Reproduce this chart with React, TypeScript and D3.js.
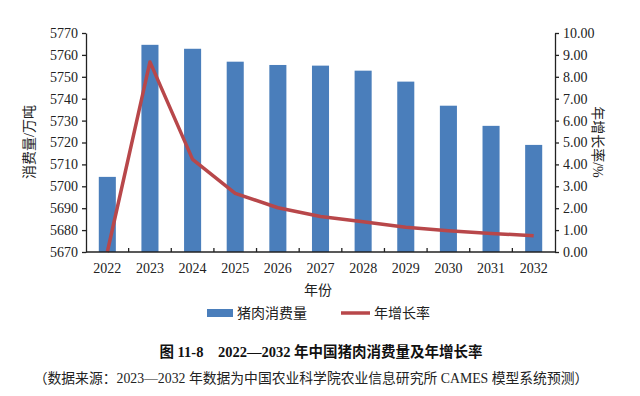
import React, { useEffect, useRef } from 'react';
import * as d3 from 'd3';

const years = ['2022', '2023', '2024', '2025', '2026', '2027', '2028', '2029', '2030', '2031', '2032'];
const consumption = [5704.3, 5764.6, 5762.8, 5756.9, 5755.4, 5755.1, 5752.8, 5747.8, 5736.8, 5727.6, 5718.9];
const growth = [0, 8.68, 4.23, 2.68, 2.02, 1.62, 1.38, 1.13, 0.97, 0.85, 0.74];
const leftTicks = [5670, 5680, 5690, 5700, 5710, 5720, 5730, 5740, 5750, 5760, 5770];
const rightTicks = [0, 1, 2, 3, 4, 5, 6, 7, 8, 9, 10];

const serif = '"Liberation Serif", "Times New Roman", serif';
const cjk = '"Liberation Serif", "Noto Sans CJK SC", serif';

export default function App() {
  const ref = useRef<SVGSVGElement>(null);

  useEffect(() => {
    const svg = d3.select(ref.current);
    svg.selectAll('*').remove();

    const left = 86, right = 555, top = 33, bottom = 252;
    const x = d3.scaleBand().domain(years).range([left, right]).paddingInner(0.6).paddingOuter(0.3);
    const yL = d3.scaleLinear().domain([5670, 5770]).range([bottom, top]);
    const yR = d3.scaleLinear().domain([0, 10]).range([bottom, top]);

    // bars
    svg.append('g').selectAll('rect')
      .data(years)
      .enter()
      .append('rect')
      .attr('x', d => x(d)!)
      .attr('width', x.bandwidth())
      .attr('y', (d, i) => yL(consumption[i]))
      .attr('height', (d, i) => bottom - yL(consumption[i]))
      .attr('fill', '#4a7ebb');

    // line
    const line = d3.line<number>()
      .x((d, i) => x(years[i])! + x.bandwidth() / 2)
      .y(d => yR(d));
    svg.append('path')
      .datum(growth)
      .attr('d', line)
      .attr('fill', 'none')
      .attr('stroke', '#b8474a')
      .attr('stroke-width', 3.5)
      .attr('stroke-linejoin', 'round');

    // left axis
    const gl = svg.append('g').attr('transform', `translate(${left},0)`)
      .call(d3.axisLeft(yL).tickValues(leftTicks).tickFormat(d3.format('d')).tickSize(4).tickSizeOuter(0));
    // right axis
    const gr = svg.append('g').attr('transform', `translate(${right},0)`)
      .call(d3.axisRight(yR).tickValues(rightTicks).tickFormat(d3.format('.2f')).tickSize(4).tickSizeOuter(0));
    [gl, gr].forEach(g => {
      g.select('.domain').attr('stroke', '#222').attr('stroke-width', 1.3);
      g.selectAll('.tick line').attr('stroke', '#222').attr('stroke-width', 1.3);
      g.selectAll('.tick text').attr('font-family', serif).attr('font-size', 14).attr('fill', '#222');
    });
    gl.selectAll('.tick text').attr('x', -8);
    gr.selectAll('.tick text').attr('x', 8);

    // x axis
    const gx = svg.append('g').attr('transform', `translate(0,${bottom})`);
    gx.append('line').attr('x1', left).attr('x2', right).attr('stroke', '#222').attr('stroke-width', 1.3);
    const step = x.step();
    const bounds = d3.range(1, years.length).map(i => x(years[i])! - (step - x.bandwidth()) / 2);
    gx.selectAll('.xt').data(bounds).enter().append('line')
      .attr('x1', d => d).attr('x2', d => d).attr('y1', 0).attr('y2', -4)
      .attr('stroke', '#222').attr('stroke-width', 1.3);
    gx.selectAll('text').data(years).enter().append('text')
      .attr('x', d => x(d)! + x.bandwidth() / 2)
      .attr('y', 21)
      .attr('text-anchor', 'middle')
      .attr('font-family', serif).attr('font-size', 14).attr('fill', '#222')
      .text(d => d);

    // axis titles
    svg.append('text').attr('x', 318).attr('y', 295).attr('text-anchor', 'middle')
      .attr('font-family', cjk).attr('font-size', 14).attr('fill', '#222').text('年份');
    svg.append('text').attr('transform', 'translate(34,142) rotate(-90)').attr('text-anchor', 'middle')
      .attr('font-family', cjk).attr('font-size', 14).attr('fill', '#222').text('消费量/万吨');
    svg.append('text').attr('transform', 'translate(593,142) rotate(90)').attr('text-anchor', 'middle')
      .attr('font-family', cjk).attr('font-size', 14).attr('fill', '#222').text('年增长率/%');

    // legend
    svg.append('rect').attr('x', 207).attr('y', 309).attr('width', 26).attr('height', 8).attr('fill', '#4a7ebb');
    svg.append('text').attr('x', 237).attr('y', 318).attr('font-family', cjk).attr('font-size', 14).attr('fill', '#222').text('猪肉消费量');
    svg.append('line').attr('x1', 341).attr('x2', 370).attr('y1', 313).attr('y2', 313).attr('stroke', '#b8474a').attr('stroke-width', 3.5);
    svg.append('text').attr('x', 374).attr('y', 318).attr('font-family', cjk).attr('font-size', 14).attr('fill', '#222').text('年增长率');

    // captions
    svg.append('text').attr('x', 321).attr('y', 357).attr('text-anchor', 'middle')
      .style('white-space', 'pre')
      .attr('font-family', cjk).attr('font-size', 14.5).attr('font-weight', 'bold').attr('fill', '#111')
      .text('图 11-8    2022—2032 年中国猪肉消费量及年增长率');
    svg.append('text').attr('x', 311).attr('y', 383).attr('text-anchor', 'middle')
      .attr('font-family', cjk).attr('font-size', 13.8).attr('fill', '#222')
      .text('（数据来源：2023—2032 年数据为中国农业科学院农业信息研究所 CAMES 模型系统预测）');
  }, []);

  return (
    <svg ref={ref} width={640} height={396} style={{ position: 'absolute', left: 0, top: 0, background: '#fff' }} />
  );
}
